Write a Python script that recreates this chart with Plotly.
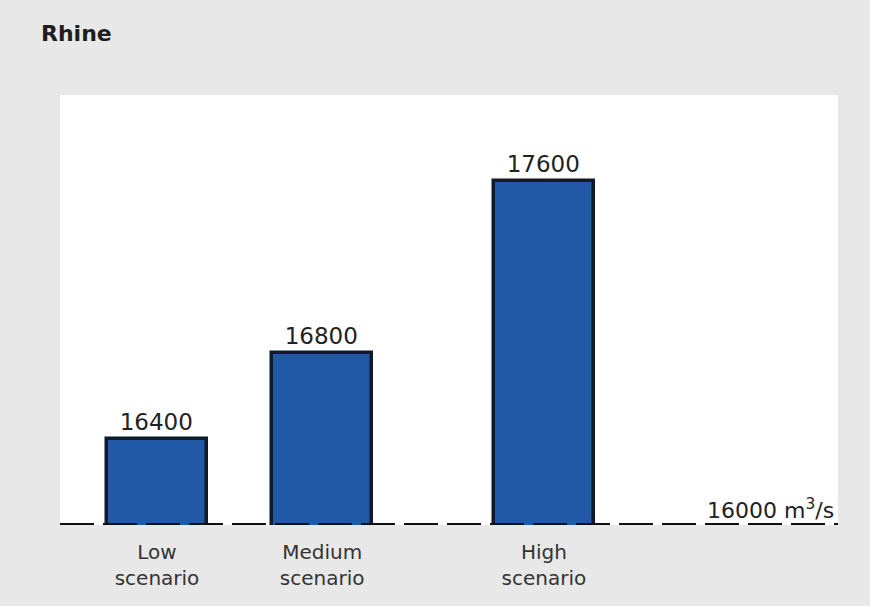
import plotly.graph_objects as go

categories = ["Low<br>scenario", "Medium<br>scenario", "High<br>scenario"]
values = [16400, 16800, 17600]
value_labels = ["16400", "16800", "17600"]
reference_level = 16000
reference_label = "16000 m<sup>3</sup>/s"
title_text = "Rhine"

# layout positions of the bar slots along x (fraction of plot width)
x_pos = [0.1247, 0.337, 0.622]
bar_width = 0.1285

FONT = "DejaVu Sans, Verdana, Arial"

fig = go.Figure()
fig.add_trace(go.Bar(
    x=x_pos, y=values, width=bar_width,
    marker=dict(color="#2259a6", line=dict(color="#0f1a2a", width=3.5)),
    text=value_labels, textposition="outside",
    textfont=dict(family=FONT, size=23, color="#222"),
    cliponaxis=False, hoverinfo="skip",
))

fig.add_shape(type="line", xref="paper", yref="y", x0=0, x1=1,
              y0=reference_level, y1=reference_level,
              line=dict(color="#111", width=4, dash="34px,9px"), layer="above")

fig.add_annotation(xref="paper", yref="y", x=0.998, y=reference_level,
                   xanchor="right", yanchor="bottom", yshift=0,
                   text=reference_label, showarrow=False,
                   font=dict(family=FONT, size=22, color="#222"))

fig.add_annotation(xref="paper", yref="paper", x=-0.027, y=1.0, yshift=62,
                   xanchor="left", yanchor="middle", text="<b>" + title_text + "</b>",
                   showarrow=False,
                   font=dict(family=FONT, size=22, color="#1e1e1e"))

fig.update_layout(
    width=870, height=606,
    margin=dict(l=60, r=32, t=95, b=81),
    paper_bgcolor="#e8e8e8", plot_bgcolor="#ffffff",
    showlegend=False, bargap=0,
    xaxis=dict(range=[0, 1], tickvals=x_pos, ticktext=categories,
               showgrid=False, zeroline=False, showline=False, ticks="",
               ticklabelstandoff=13,
               tickfont=dict(family=FONT, size=20, color="#333333")),
    yaxis=dict(range=[reference_level, 18000], showgrid=False, zeroline=False,
               showline=False, showticklabels=False, ticks=""),
)

fig.write_html("out.html")
